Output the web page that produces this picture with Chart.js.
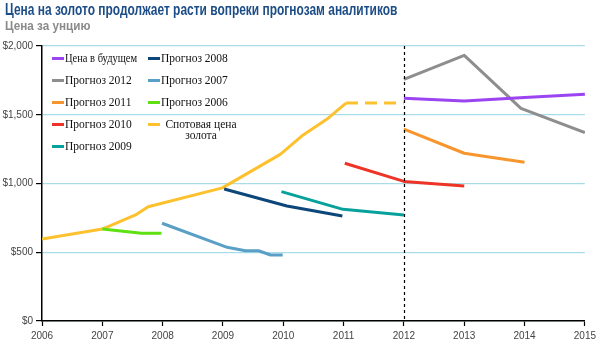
<!DOCTYPE html>
<html>
<head>
<meta charset="utf-8">
<script src="https://cdn.jsdelivr.net/npm/chart.js@4/dist/chart.umd.min.js"></script>
<style>
  body { margin: 0; background: #fff; }
  #wrap { position: relative; width: 600px; height: 364px; overflow: hidden; }
  #grafico { position: absolute; left: 0; top: 0; }
  .titulo { position: absolute; left: 5px; top: 1px; font: bold 16px "Liberation Sans", sans-serif; color: #1c4d86;
            white-space: nowrap; transform: scaleX(0.747); transform-origin: left top; }
  .subtitulo { position: absolute; left: 5px; top: 18px; font: bold 13px "Liberation Sans", sans-serif; color: #8a8a8a;
               white-space: nowrap; transform: scaleX(0.9); transform-origin: left top; }
  #leyenda { position: absolute; left: 52px; top: 48px; display: grid; grid-auto-flow: column;
             grid-template-rows: repeat(5, 22px); grid-template-columns: 96px 120px;
             font: 11.5px "Liberation Serif", serif; color: #111; }
  .item { display: flex; align-items: flex-start; padding-top: 5px; line-height: 11px; white-space: nowrap; }
  .muestra { width: 12px; height: 3px; margin-top: 4px; margin-right: 1px; flex: none; }
  .largo { white-space: normal; width: 76px; text-align: center; margin-left: 2px; }
  .angosto { display: inline-block; transform-origin: left top; }
</style>
</head>
<body>
<div id="wrap">
  <canvas id="grafico" width="600" height="364"></canvas>
  <div class="titulo">Цена на золото продолжает расти вопреки прогнозам аналитиков</div>
  <div class="subtitulo">Цена за унцию</div>
  <div id="leyenda"></div>
</div>
<script>
// Datos (año, USD por onza)
const futuroAnios = [2012, 2013, 2014, 2015];
const futuroPrecios = [1620, 1600, 1625, 1649];

const pron2012Anios = [2012, 2013, 2013.94, 2015];
const pron2012Precios = [1758, 1932, 1547, 1370];

const pron2011Anios = [2012, 2013, 2013.3, 2014];
const pron2011Precios = [1396, 1220, 1200, 1154];

const pron2010Anios = [2011.02, 2012, 2013];
const pron2010Precios = [1147, 1015, 982];

const pron2009Anios = [2009.97, 2010.99, 2012];
const pron2009Precios = [941, 812, 771];

const pron2008Anios = [2009.02, 2010.06, 2010.98];
const pron2008Precios = [960, 836, 764];

const pron2007Anios = [2007.99, 2009.07, 2009.37, 2009.59, 2009.79, 2009.99];
const pron2007Precios = [711, 536, 511, 511, 480, 480];

const pron2006Anios = [2007, 2007.65, 2007.98];
const pron2006Precios = [669, 638, 638];

const spotAnios = [2006, 2007, 2007.55, 2007.76, 2008.99, 2009.95, 2010.33, 2010.72, 2011.04, 2012];
const spotPrecios = [596, 669, 771, 831, 968, 1212, 1353, 1467, 1585, 1585];

const aniosEje = [2006, 2007, 2008, 2009, 2010, 2011, 2012, 2013, 2014, 2015];
const preciosEje = [0, 500, 1000, 1500, 2000];
const anioCorte = 2012;

const series = [
    { label: "Цена в будущем", x: futuroAnios, y: futuroPrecios, color: "#9b45f2" },
    { label: "Прогноз 2012", x: pron2012Anios, y: pron2012Precios, color: "#8e8e8e" },
    { label: "Прогноз 2011", x: pron2011Anios, y: pron2011Precios, color: "#f7962e" },
    { label: "Прогноз 2010", x: pron2010Anios, y: pron2010Precios, color: "#ee3426" },
    { label: "Прогноз 2009", x: pron2009Anios, y: pron2009Precios, color: "#07a19b" },
    { label: "Прогноз 2008", x: pron2008Anios, y: pron2008Precios, color: "#0d4679" },
    { label: "Прогноз 2007", x: pron2007Anios, y: pron2007Precios, color: "#5aa0c6" },
    { label: "Прогноз 2006", x: pron2006Anios, y: pron2006Precios, color: "#5fe012" },
    { label: "Спотовая цена золота", x: spotAnios, y: spotPrecios, color: "#fdc12e" }
];

const fuenteEje = { family: "'Liberation Sans', sans-serif", size: 10 };

// Línea vertical punteada en 2012
const lineaCorte = {
    id: "lineaCorte",
    afterDatasetsDraw(chart) {
        const { ctx, chartArea, scales } = chart;
        const x = Math.round(scales.x.getPixelForValue(anioCorte)) + 0.5;
        ctx.save();
        ctx.strokeStyle = "#000";
        ctx.lineWidth = 1.2;
        ctx.setLineDash([3, 3]);
        ctx.beginPath();
        ctx.moveTo(x, chartArea.top);
        ctx.lineTo(x, chartArea.bottom);
        ctx.stroke();
        ctx.restore();
    }
};

const datasets = series.map(s => ({
    label: s.label,
    data: s.x.map((v, i) => ({ x: v, y: s.y[i] })),
    borderColor: s.color,
    backgroundColor: s.color,
    borderWidth: 3,
    pointRadius: 0,
    tension: 0,
    borderJoinStyle: "round",
    segment: s.x === spotAnios ? {
        borderDash: c => c.p0.parsed.x >= 2011 ? [12, 7] : undefined
    } : undefined
}));

new Chart(document.getElementById("grafico").getContext("2d"), {
    type: "line",
    data: { datasets: datasets },
    options: {
        responsive: false,
        animation: false,
        layout: { padding: { top: 46, right: 11, left: 0, bottom: 0 } },
        plugins: { legend: { display: false }, tooltip: { enabled: false } },
        scales: {
            x: {
                type: "linear",
                min: aniosEje[0],
                max: aniosEje[aniosEje.length - 1],
                afterBuildTicks: axis => { axis.ticks = aniosEje.map(v => ({ value: v })); },
                afterFit: axis => { axis.height = 43; },
                grid: { drawOnChartArea: false, tickLength: 5, tickColor: "#000", tickWidth: 1.2 },
                border: { color: "#000", width: 1.5 },
                ticks: { color: "#444", font: fuenteEje, padding: 4, maxRotation: 0, callback: v => String(v) }
            },
            y: {
                min: preciosEje[0],
                max: preciosEje[preciosEje.length - 1],
                afterBuildTicks: axis => { axis.ticks = preciosEje.map(v => ({ value: v })); },
                afterFit: axis => { axis.width = 42; },
                grid: { color: "#a9dce9", lineWidth: 1.2, tickLength: 6, tickColor: "#000", tickWidth: 1.2 },
                border: { color: "#000", width: 1.5 },
                ticks: { color: "#444", font: fuenteEje, padding: 3, callback: v => "$" + v.toLocaleString("en-US") }
            }
        }
    },
    plugins: [lineaCorte]
});

// Leyenda en dos columnas
const leyenda = document.getElementById("leyenda");
series.forEach(s => {
    const item = document.createElement("div");
    item.className = "item";
    const muestra = document.createElement("span");
    muestra.className = "muestra";
    muestra.style.background = s.color;
    const texto = document.createElement("span");
    texto.textContent = s.label;
    texto.className = s.label.length > 15 ? "largo" : "angosto";
    item.appendChild(muestra);
    item.appendChild(texto);
    leyenda.appendChild(item);
    // comprimir etiquetas que no caben en la columna
    if (texto.className === "angosto" && texto.offsetWidth > 76) {
        texto.style.transform = "scaleX(" + (72 / texto.offsetWidth) + ")";
    }
});
</script>
</body>
</html>
